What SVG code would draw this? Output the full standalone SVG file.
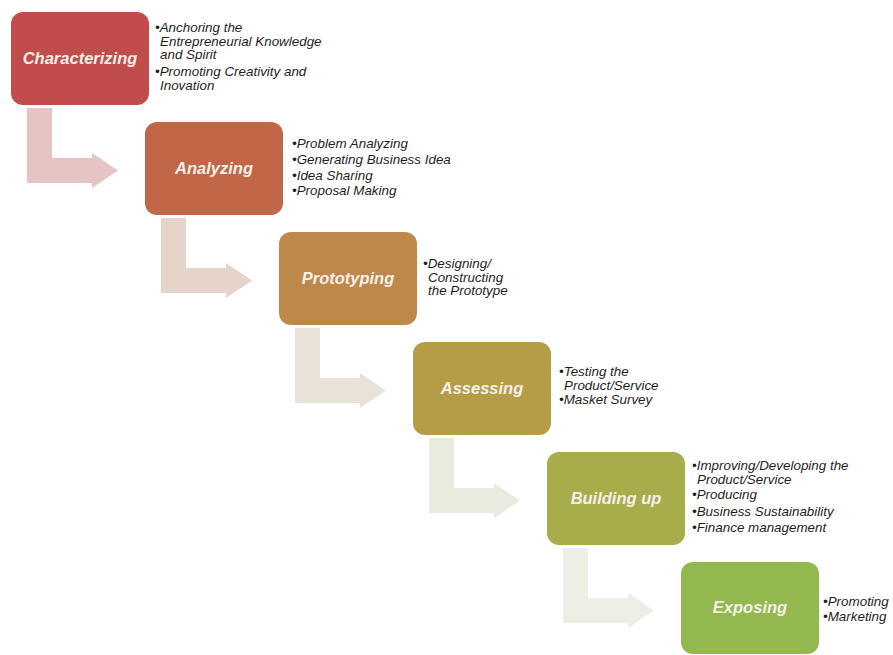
<svg xmlns="http://www.w3.org/2000/svg" width="893" height="655" viewBox="0 0 893 655">
<style>
.box{stroke:none}
.lbl{font-family:"Liberation Sans",Arial,sans-serif;font-size:16.5px;font-weight:bold;font-style:italic;fill:#F5F0EA;text-anchor:middle}
.txt{font-family:"Liberation Sans",Arial,sans-serif;font-size:13.4px;font-style:italic;fill:#1E1E1E}
</style>
<defs>
<path id="bend" d="M16,96 H41 V146 H81 V141 L107,158.5 L81,176 V171 H16 Z"/>
</defs>
<rect width="893" height="655" fill="#FFFFFF"/>
<g id="connectors">
<use href="#bend" x="11" y="12" fill="#E6C4C3"/>
<use href="#bend" x="145" y="122" fill="#E6D3CA"/>
<use href="#bend" x="279" y="232" fill="#E8E3D6"/>
<use href="#bend" x="413" y="342" fill="#EAEADF"/>
<use href="#bend" x="547" y="452" fill="#EDEEE6"/>
</g>
<g id="characterizing">
<rect class="box" x="11" y="12" width="138" height="93" rx="12" fill="#C04D4B"/>
<text class="lbl" x="80" y="64">Characterizing</text>
<text class="txt" x="155" y="32">•Anchoring the</text>
<text class="txt" x="160" y="45.5">Entrepreneurial Knowledge</text>
<text class="txt" x="160" y="59">and Spirit</text>
<text class="txt" x="155" y="76">•Promoting Creativity and</text>
<text class="txt" x="160" y="89.5">Inovation</text>
</g>
<g id="analyzing">
<rect class="box" x="145" y="122" width="138" height="93" rx="12" fill="#C16748"/>
<text class="lbl" x="214" y="174">Analyzing</text>
<text class="txt" x="292" y="148">•Problem Analyzing</text>
<text class="txt" x="292" y="164">•Generating Business Idea</text>
<text class="txt" x="292" y="179.5">•Idea Sharing</text>
<text class="txt" x="292" y="195">•Proposal Making</text>
</g>
<g id="prototyping">
<rect class="box" x="279" y="232" width="138" height="93" rx="12" fill="#BE884B"/>
<text class="lbl" x="348" y="284">Prototyping</text>
<text class="txt" x="423" y="268">•Designing/</text>
<text class="txt" x="428" y="281.5">Constructing</text>
<text class="txt" x="428" y="295">the Prototype</text>
</g>
<g id="assessing">
<rect class="box" x="413" y="342" width="138" height="93" rx="12" fill="#B59D48"/>
<text class="lbl" x="482" y="394">Assessing</text>
<text class="txt" x="559" y="376">•Testing the</text>
<text class="txt" x="564" y="390">Product/Service</text>
<text class="txt" x="559" y="404">•Masket Survey</text>
</g>
<g id="building-up">
<rect class="box" x="547" y="452" width="138" height="93" rx="12" fill="#A8AC4A"/>
<text class="lbl" x="616" y="504">Building up</text>
<text class="txt" x="692" y="470">•Improving/Developing the</text>
<text class="txt" x="697" y="484">Product/Service</text>
<text class="txt" x="692" y="499">•Producing</text>
<text class="txt" x="692" y="515.5">•Business Sustainability</text>
<text class="txt" x="692" y="532">•Finance management</text>
</g>
<g id="exposing">
<rect class="box" x="681" y="562" width="138" height="92" rx="12" fill="#94B850"/>
<text class="lbl" x="750" y="613">Exposing</text>
<text class="txt" x="823" y="606">•Promoting</text>
<text class="txt" x="823" y="621">•Marketing</text>
</g>
</svg>
